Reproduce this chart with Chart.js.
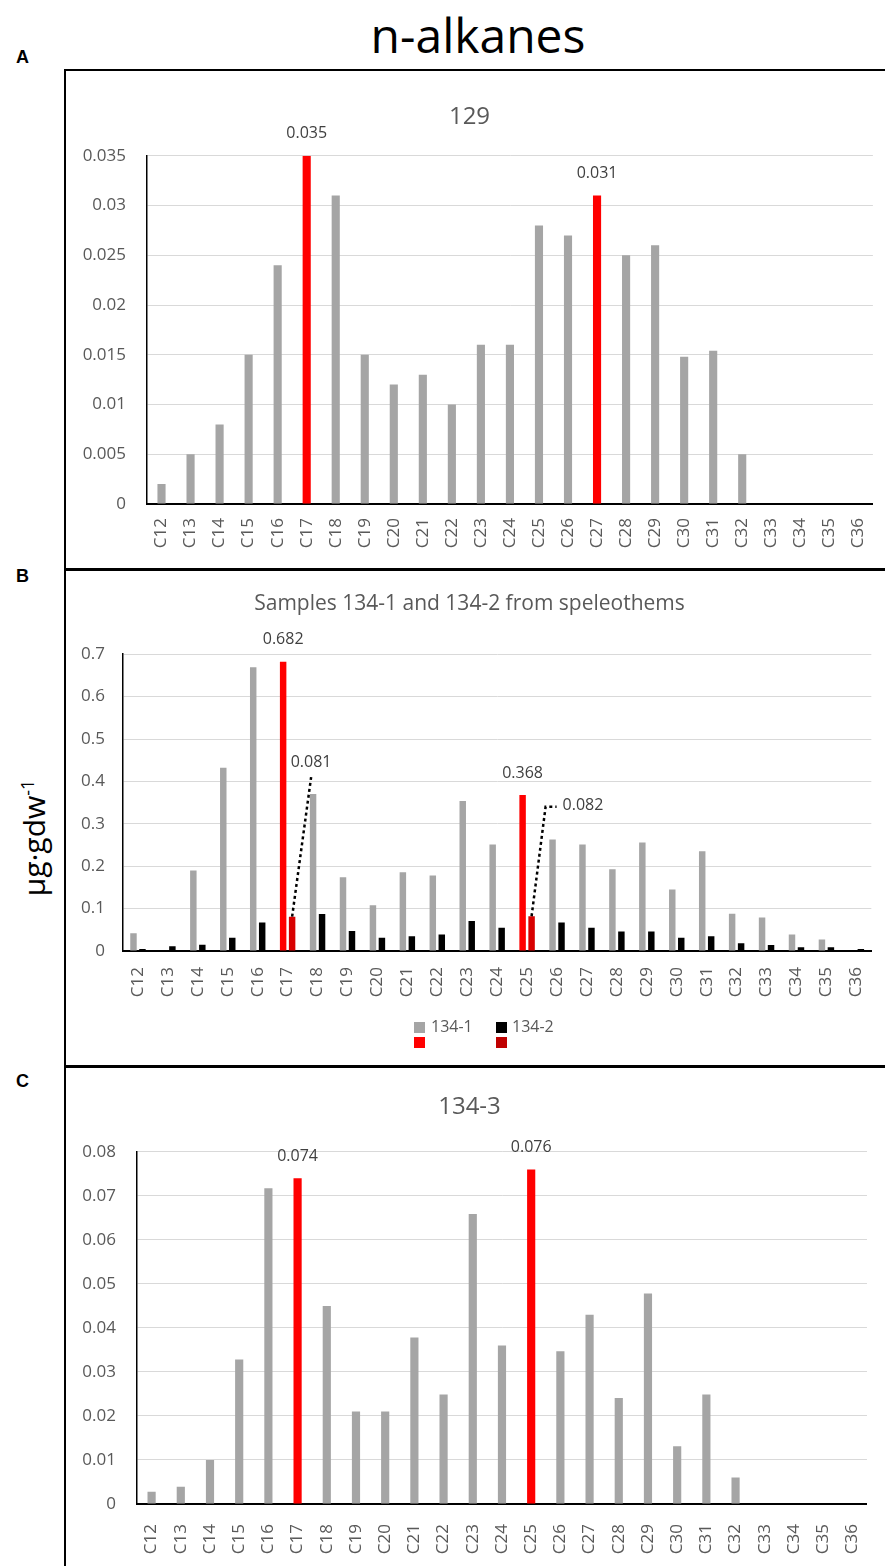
<!DOCTYPE html>
<html>
<head>
<meta charset="utf-8">
<script src="https://cdn.jsdelivr.net/npm/chart.js@4.4.1/dist/chart.umd.min.js"></script>
<style>
  body { margin: 0; width: 885px; height: 1566px; position: relative; background: #fff; overflow: hidden; font-family: 'Open Sans', sans-serif }
  .box { position: absolute }
  .line { position: absolute; background: #000 }
  .letter { position: absolute; font: bold 18px 'Liberation Sans', Arial, sans-serif; color: #000 }
  #main-title { position: absolute; left: 0; width: 956px; top: 2px; text-align: center; font-size: 48px; color: #000 }
  #unit { position: absolute; left: 33px; top: 838px; transform: translate(-50%, -50%) rotate(-90deg); font-size: 30px; white-space: nowrap; color: #000 }
  #unit sup { font-size: 18px }
  .legend { position: absolute; font-size: 16px; color: #595959 }
  .sw { position: absolute; width: 11px; height: 11px }
</style>
</head>
<body>
<div id="main-title">n-alkanes</div>
<div class="letter" style="left:16px;top:47px">A</div>
<div class="letter" style="left:16px;top:566px">B</div>
<div class="letter" style="left:16px;top:1071px">C</div>

<div class="line" style="left:64px;top:69px;width:2px;height:1497px"></div>
<div class="line" style="left:64px;top:69px;width:821px;height:2px"></div>
<div class="line" style="left:64px;top:568px;width:821px;height:3px"></div>
<div class="line" style="left:64px;top:1065px;width:821px;height:3px"></div>

<div id="unit">µg·gdw<sup>-1</sup></div>

<div class="box" style="left:66px;top:72px;width:819px;height:496px"><canvas id="chart-a"></canvas></div>
<div class="box" style="left:66px;top:572px;width:819px;height:493px"><canvas id="chart-b"></canvas></div>
<div class="box" style="left:66px;top:1069px;width:819px;height:497px"><canvas id="chart-c"></canvas></div>

<div class="sw" style="left:414px;top:1022px;background:#a5a5a5"></div>
<div class="sw" style="left:414px;top:1037px;background:#ff0000"></div>
<div class="legend" style="left:431px;top:1015px">134-1</div>
<div class="sw" style="left:496px;top:1022px;background:#000"></div>
<div class="sw" style="left:496px;top:1037px;background:#c00000"></div>
<div class="legend" style="left:512px;top:1015px">134-2</div>

<script>
const categories = ['C12', 'C13', 'C14', 'C15', 'C16', 'C17', 'C18', 'C19', 'C20', 'C21', 'C22', 'C23', 'C24',
  'C25', 'C26', 'C27', 'C28', 'C29', 'C30', 'C31', 'C32', 'C33', 'C34', 'C35', 'C36']

// panel A - sample 129
const values129 = [0.002, 0.005, 0.008, 0.015, 0.024, 0.035, 0.031, 0.015, 0.012, 0.013, 0.010, 0.016, 0.016,
  0.028, 0.027, 0.031, 0.025, 0.026, 0.0148, 0.0154, 0.005, 0, 0, 0, 0]
const highlight129 = ['C17', 'C27']
const ticks129 = [0, 0.005, 0.01, 0.015, 0.02, 0.025, 0.03, 0.035]

// panel B - samples 134-1 and 134-2
const values134_1 = [0.042, 0, 0.19, 0.432, 0.669, 0.682, 0.37, 0.174, 0.108, 0.186, 0.178, 0.354, 0.251,
  0.368, 0.263, 0.251, 0.193, 0.256, 0.145, 0.235, 0.088, 0.079, 0.039, 0.027, 0]
const values134_2 = [0.005, 0.011, 0.015, 0.031, 0.067, 0.081, 0.087, 0.047, 0.031, 0.035, 0.039, 0.071, 0.055,
  0.082, 0.067, 0.055, 0.046, 0.046, 0.031, 0.035, 0.018, 0.014, 0.009, 0.009, 0.005]
const highlight134 = ['C17', 'C25']
const ticks134 = [0, 0.1, 0.2, 0.3, 0.4, 0.5, 0.6, 0.7]

// panel C - sample 134-3
const values134_3 = [0.0028, 0.0039, 0.010, 0.0328, 0.0717, 0.074, 0.045, 0.021, 0.021, 0.0378, 0.0249, 0.0659, 0.036,
  0.076, 0.0347, 0.043, 0.0241, 0.0478, 0.0131, 0.0249, 0.006, 0, 0, 0, 0]
const highlight134_3 = ['C17', 'C25']
const ticks134_3 = [0, 0.01, 0.02, 0.03, 0.04, 0.05, 0.06, 0.07, 0.08]

const GRAY = '#a5a5a5'
const RED = '#ff0000'
const DARK_RED = '#d80000'
const TEXT = '#595959'

Chart.defaults.font.family = "'Open Sans', sans-serif"
Chart.defaults.color = TEXT
Chart.defaults.animation = false

const colorsFor = (highlight, base, hot) => categories.map(c => highlight.includes(c) ? hot : base)

const fmt = v => String(Number(v.toFixed(4)))

// value labels above highlighted bars, with dotted leaders for the small ones
const valueLabels = {
  id: 'valueLabels',
  afterDatasetsDraw(chart, args, opts) {
    const ctx = chart.ctx
    ctx.save()
    ctx.font = "16px 'Open Sans', sans-serif"
    ctx.fillStyle = '#404040'
    ctx.textBaseline = 'middle'
    ;(opts.marks || []).forEach(m => {
      const bar = chart.getDatasetMeta(m.dataset).data[m.index]
      const text = chart.data.datasets[m.dataset].data[m.index].toFixed(3)
      if (m.level === undefined) {
        ctx.textAlign = 'center'
        ctx.fillText(text, bar.x, bar.y - 22)
        return
      }
      const ly = chart.scales.y.getPixelForValue(m.level)
      const lx = bar.x + m.dx
      ctx.strokeStyle = '#000'
      ctx.lineWidth = 2.5
      ctx.setLineDash([3, 3])
      ctx.beginPath()
      ctx.moveTo(bar.x, bar.y)
      ctx.lineTo(lx, ly)
      if (m.side === 'right') ctx.lineTo(lx + 11, ly)
      ctx.stroke()
      ctx.setLineDash([])
      if (m.side === 'right') {
        ctx.textAlign = 'left'
        ctx.fillText(text, lx + 17, ly - 1)
      } else {
        ctx.textAlign = 'center'
        ctx.fillText(text, lx, ly - 15)
      }
    })
    ctx.restore()
  }
}

const makeChart = (id, cfg) => {
  const ctx = document.getElementById(id).getContext('2d')
  return new Chart(ctx, {
    type: 'bar',
    data: { labels: categories, datasets: cfg.datasets },
    plugins: [valueLabels],
    options: {
      responsive: true,
      maintainAspectRatio: false,
      layout: { padding: { left: 0, right: 12, top: 0, bottom: 0 } },
      plugins: {
        legend: { display: false },
        tooltip: { enabled: false },
        title: {
          display: true,
          text: cfg.title,
          color: TEXT,
          font: { size: cfg.titleSize, weight: 'normal' },
          padding: { top: cfg.titleTop, bottom: cfg.titleBottom }
        },
        valueLabels: { marks: cfg.marks }
      },
      scales: {
        x: {
          grid: { display: false },
          border: { color: '#000', width: 2 },
          ticks: {
            autoSkip: false,
            minRotation: 90,
            maxRotation: 90,
            padding: cfg.xPad,
            color: TEXT,
            font: { size: 17 }
          },
          afterFit: scale => { scale.height = cfg.xHeight }
        },
        y: {
          min: 0,
          max: cfg.ticks[cfg.ticks.length - 1],
          afterBuildTicks: scale => { scale.ticks = cfg.ticks.map(v => ({ value: v })) },
          grid: { color: '#d9d9d9', lineWidth: 1, drawTicks: false },
          border: { color: '#000', width: 1.5 },
          ticks: {
            padding: cfg.yPad,
            color: TEXT,
            font: { size: 17 },
            callback: v => fmt(v)
          },
          afterFit: scale => { scale.width = cfg.yWidth }
        }
      }
    }
  })
}

makeChart('chart-a', {
  title: '129',
  titleSize: 24,
  titleTop: 31,
  titleBottom: 24,
  ticks: ticks129,
  yWidth: 81,
  yPad: 21,
  xHeight: 64,
  xPad: 6,
  datasets: [{
    data: values129,
    backgroundColor: colorsFor(highlight129, GRAY, RED),
    categoryPercentage: 1,
    barPercentage: 0.28
  }],
  marks: highlight129.map(c => ({ dataset: 0, index: categories.indexOf(c) }))
})

makeChart('chart-b', {
  title: 'Samples 134-1 and 134-2 from speleothems',
  titleSize: 21,
  titleTop: 19,
  titleBottom: 38,
  ticks: ticks134,
  yWidth: 57,
  yPad: 18,
  xHeight: 114,
  xPad: 8,
  datasets: [
    {
      label: '134-1',
      data: values134_1,
      backgroundColor: colorsFor(highlight134, GRAY, RED),
      categoryPercentage: 0.6,
      barPercentage: 0.72
    },
    {
      label: '134-2',
      data: values134_2,
      backgroundColor: colorsFor(highlight134, '#000000', DARK_RED),
      categoryPercentage: 0.6,
      barPercentage: 0.72
    }
  ],
  marks: [
    { dataset: 0, index: categories.indexOf('C17') },
    { dataset: 0, index: categories.indexOf('C25') },
    { dataset: 1, index: categories.indexOf('C17'), level: 0.41, dx: 19, side: 'above' },
    { dataset: 1, index: categories.indexOf('C25'), level: 0.34, dx: 14, side: 'right' }
  ]
})

makeChart('chart-c', {
  title: '134-3',
  titleSize: 24,
  titleTop: 24,
  titleBottom: 30,
  ticks: ticks134_3,
  yWidth: 71,
  yPad: 21,
  xHeight: 62,
  xPad: 12,
  datasets: [{
    data: values134_3,
    backgroundColor: colorsFor(highlight134_3, GRAY, RED),
    categoryPercentage: 1,
    barPercentage: 0.28
  }],
  marks: highlight134_3.map(c => ({ dataset: 0, index: categories.indexOf(c) }))
})
</script>
</body>
</html>
